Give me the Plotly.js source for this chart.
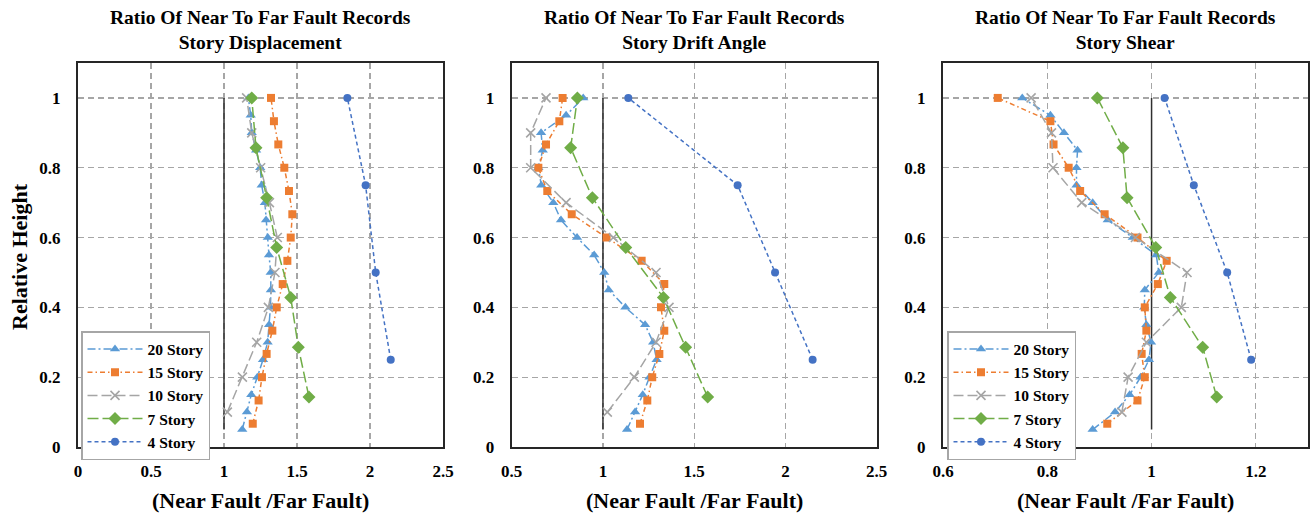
<!DOCTYPE html>
<html>
<head>
<meta charset="utf-8">
<script src="https://cdn.plot.ly/plotly-3.0.1.min.js"></script>
<style>html,body{margin:0;padding:0;background:#fff;}#chart{width:1312px;height:516px;}</style>
</head>
<body>
<div id="chart"></div>
<script>
// Story levels (relative height)
var y20 = [0.05,0.1,0.15,0.2,0.25,0.3,0.35,0.4,0.45,0.5,0.55,0.6,0.65,0.7,0.75,0.8,0.85,0.9,0.95,1.0];
var y15 = [0.0667,0.1333,0.2,0.2667,0.3333,0.4,0.4667,0.5333,0.6,0.6667,0.7333,0.8,0.8667,0.9333,1.0];
var y10 = [0.1,0.2,0.3,0.4,0.5,0.6,0.7,0.8,0.9,1.0];
var y7 = [0.1429,0.2857,0.4286,0.5714,0.7143,0.8571,1.0];
var y4 = [0.25,0.5,0.75,1.0];

// Story Displacement ratios
var disp20 = [1.125,1.157,1.187,1.228,1.267,1.299,1.309,1.318,1.321,1.32,1.308,1.3,1.288,1.28,1.258,1.248,1.22,1.19,1.183,1.167];
var disp15 = [1.197,1.237,1.260,1.292,1.331,1.361,1.402,1.434,1.457,1.468,1.445,1.413,1.372,1.342,1.322];
var disp10 = [1.023,1.126,1.224,1.304,1.349,1.365,1.311,1.251,1.19,1.155];
var disp7 = [1.582,1.509,1.457,1.361,1.292,1.219,1.19];
var disp4 = [2.142,2.039,1.970,1.845];

// Story Drift Angle ratios
var drift20 = [1.132,1.176,1.218,1.255,1.294,1.275,1.231,1.123,1.032,1.007,0.952,0.858,0.770,0.728,0.662,0.646,0.670,0.661,0.798,0.892];
var drift15 = [1.203,1.243,1.270,1.309,1.336,1.318,1.336,1.212,1.020,0.829,0.695,0.646,0.688,0.761,0.779];
var drift10 = [1.024,1.172,1.291,1.362,1.291,1.057,0.798,0.604,0.604,0.688];
var drift7 = [1.574,1.453,1.331,1.125,0.942,0.823,0.860];
var drift4 = [2.149,1.943,1.738,1.139];

// Story Shear ratios
var shear20 = [0.887,0.930,0.958,0.979,0.995,0.999,0.990,0.986,0.987,1.014,1.009,0.964,0.916,0.887,0.856,0.856,0.858,0.832,0.806,0.752];
var shear15 = [0.915,0.973,0.987,0.981,0.990,0.987,1.012,1.029,0.973,0.910,0.863,0.841,0.812,0.806,0.705];
var shear10 = [0.943,0.955,0.990,1.057,1.068,0.969,0.866,0.811,0.808,0.769];
var shear7 = [1.125,1.098,1.036,1.008,0.953,0.945,0.896];
var shear4 = [1.191,1.145,1.081,1.025];

// Reference line (ratio = 1)
var refX = [1, 1];
var refY = [0.05, 1.0];

var seriesNames = ['20 Story','15 Story','10 Story','7 Story','4 Story'];
var panelTitles = ['Ratio Of Near To Far Fault Records<br>Story Displacement',
                   'Ratio Of Near To Far Fault Records<br>Story Drift Angle',
                   'Ratio Of Near To Far Fault Records<br>Story Shear'];
var xTitle = '(Near Fault /Far Fault)';
var yTitle = 'Relative Height';

var FONT = 'Liberation Serif, Times New Roman, serif';
var styles = [
  {color:'#5B9BD5', dash:'8px,3px,2px,3px', symbol:'triangle-up', size:9},
  {color:'#ED7D31', dash:'5px,3px,1.5px,3px', symbol:'square', size:8},
  {color:'#A5A5A5', dash:'10px,4px', symbol:'x-thin', size:9},
  {color:'#70AD47', dash:'11px,4px', symbol:'diamond', size:10},
  {color:'#4472C4', dash:'4px,3px', symbol:'circle', size:8}
];

var panels = [
  {x:[disp20,disp15,disp10,disp7,disp4], legend:'legend'},
  {x:[drift20,drift15,drift10,drift7,drift4], legend:null},
  {x:[shear20,shear15,shear10,shear7,shear4], legend:'legend2'}
];
var ys = [y20,y15,y10,y7,y4];

var traces = [];
panels.forEach(function(p, pi){
  var xa = pi === 0 ? 'x' : 'x' + (pi+1);
  var ya = pi === 0 ? 'y' : 'y' + (pi+1);
  traces.push({x:refX, y:refY, xaxis:xa, yaxis:ya, mode:'lines', showlegend:false,
    line:{color:'#303030', width:1.5}, hoverinfo:'skip'});
  p.x.forEach(function(xv, si){
    var s = styles[si];
    var t = {x:xv, y:ys[si], xaxis:xa, yaxis:ya, mode:'lines+markers', name:seriesNames[si],
      line:{color:s.color, width:1.5, dash:s.dash},
      marker:{symbol:s.symbol, size:s.size, color:s.color,
        line:{color:s.color, width: s.symbol === 'x-thin' ? 1.6 : 0}},
      showlegend: p.legend !== null};
    if (p.legend) t.legend = p.legend;
    traces.push(t);
  });
});

var W = 1312, H = 516;
var xdom = [[78/W, 443/W],[511.7/W, 876.7/W],[943/W, 1308/W]];
var ydom = [(H-447)/H, (H-63)/H];
var ranges = [[0,2.5],[0.5,2.5],[0.6,1.3]];
var dticks = [0.5,0.5,0.2];
var tick0s = [0,0.5,0.6];

var layout = {
  width:W, height:H,
  margin:{l:0,r:0,t:0,b:0},
  paper_bgcolor:'#ffffff', plot_bgcolor:'#ffffff',
  font:{family:FONT, color:'#000000'},
  showlegend:true,
  annotations:[]
};
var legendCfg = function(xpx){
  return {x:xpx/W, y:(H-331)/H, xanchor:'left', yanchor:'top',
    bgcolor:'#ffffff', bordercolor:'#A6A6A6', borderwidth:1.5,
    font:{family:FONT, size:15.5, weight:'bold', color:'#000'},
    itemwidth:55, tracegroupgap:0};
};
layout.legend = legendCfg(81);
layout.legend2 = legendCfg(947);

for (var i=0;i<3;i++){
  var xk = i===0 ? 'xaxis' : 'xaxis'+(i+1);
  var yk = i===0 ? 'yaxis' : 'yaxis'+(i+1);
  var ya = i===0 ? 'y' : 'y'+(i+1);
  var xa = i===0 ? 'x' : 'x'+(i+1);
  layout[xk] = {domain:xdom[i], range:ranges[i], anchor:ya, tick0:tick0s[i], dtick:dticks[i],
    showgrid:true, gridcolor:'#A6A6A6', griddash:'6px,4px', gridwidth:1.2,
    zeroline:false, showline:true, mirror:true, linecolor:'#262626', linewidth:2,
    ticks:'', ticklabelstandoff:8,
    tickfont:{family:FONT, size:17, weight:'bold', color:'#000'}};
  layout[yk] = {domain:ydom, range:[0,1.1], anchor:xa, tick0:0, dtick:0.2,
    showgrid:true, gridcolor:'#A6A6A6', griddash:'6px,4px', gridwidth:1.2,
    zeroline:false, showline:true, mirror:true, linecolor:'#262626', linewidth:2,
    ticks:'', ticklabelstandoff:12,
    tickfont:{family:FONT, size:17, weight:'bold', color:'#000'}};
  var cx = (xdom[i][0]+xdom[i][1])/2;
  layout.annotations.push({text:panelTitles[i], xref:'paper', yref:'paper', x:cx, y:1-30.5/H,
    xanchor:'center', yanchor:'middle', showarrow:false,
    font:{family:FONT, size:19.5, weight:'bold', color:'#000'}});
  layout.annotations.push({text:xTitle, xref:'paper', yref:'paper', x:cx, y:16/H,
    xanchor:'center', yanchor:'middle', showarrow:false,
    font:{family:FONT, size:22, weight:'bold', color:'#000'}});
}
layout.annotations.push({text:yTitle, xref:'paper', yref:'paper', x:19/W, y:(H-257)/H,
  xanchor:'center', yanchor:'middle', textangle:-90, showarrow:false,
  font:{family:FONT, size:22, weight:'bold', color:'#000'}});

Plotly.newPlot('chart', traces, layout, {displayModeBar:false, staticPlot:true});
</script>
</body>
</html>
